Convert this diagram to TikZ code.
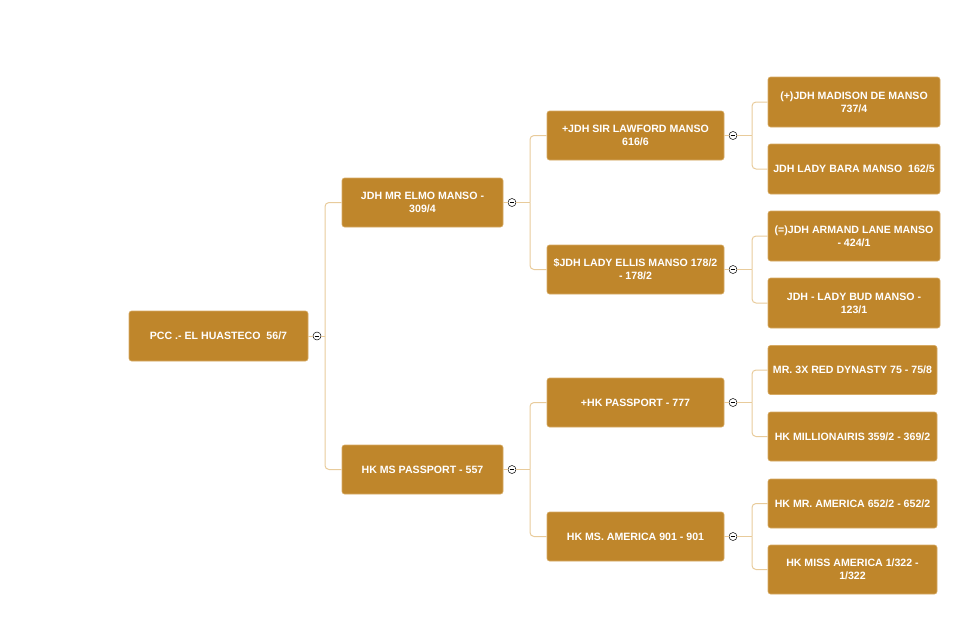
\documentclass[tikz,border=0pt]{standalone}
\usepackage{fontspec}
\setmainfont{Liberation Sans}
\definecolor{nodefill}{RGB}{191,134,43}
\definecolor{nodeedge}{RGB}{214,170,100}
\definecolor{conncol}{RGB}{232,203,155}
\begin{document}
\begin{tikzpicture}[x=1pt,y=-1pt,
  nbox/.style={fill=nodefill, draw=nodeedge, line width=0.6pt, rounded corners=2.5pt, text=white,
    font=\bfseries\fontsize{10.6}{12.8}\selectfont, align=center, inner sep=0pt},
  rootbox/.style={nbox, minimum width=179pt, minimum height=50pt},
  lonebox/.style={nbox, minimum width=161pt, minimum height=49pt},
  ltwobox/.style={nbox, minimum width=177pt, minimum height=49pt},
  lthreebox/.style={nbox, minimum width=172pt, minimum height=50pt},
  lthreeboxb/.style={nbox, minimum width=169pt, minimum height=49pt},
  toggle/.style={circle, draw=black, fill=white, line width=0.5pt, minimum size=8pt, inner sep=0pt,
    path picture={\draw[line width=0.6pt] ([xshift=-2.3pt]path picture bounding box.center) -- ([xshift=2.3pt]path picture bounding box.center);}},
  conn/.style={draw=conncol, line width=1pt, rounded corners=4pt}
]
\useasboundingbox (0,0) rectangle (973,633);

% nodes
\node[rootbox] (root) at (218.5,336) {PCC .- EL HUASTECO\ \ 56/7};

\node[lonebox] (a) at (422.5,202.5) {JDH MR ELMO MANSO -\\309/4};
\node[lonebox] (b) at (422.5,469.5) {HK MS PASSPORT - 557};

\node[ltwobox] (aa) at (635.5,135.5) {+JDH SIR LAWFORD MANSO\\616/6};
\node[ltwobox] (ab) at (635.5,269.5) {\$JDH LADY ELLIS MANSO 178/2\\- 178/2};
\node[ltwobox] (ba) at (635.5,402.5) {+HK PASSPORT - 777};
\node[ltwobox] (bb) at (635.5,536.5) {HK MS. AMERICA 901 - 901};

\node[lthreebox] (aaa) at (854,102) {(+)JDH MADISON DE MANSO\\737/4};
\node[lthreebox] (aab) at (854,169) {JDH LADY BARA MANSO\ \ 162/5};
\node[lthreebox] (aba) at (854,236) {(=)JDH ARMAND LANE MANSO\\- 424/1};
\node[lthreebox] (abb) at (854,303) {JDH - LADY BUD MANSO -\\123/1};
\node[lthreeboxb] (baa) at (852.5,370) {MR. 3X RED DYNASTY 75 - 75/8};
\node[lthreeboxb] (bab) at (852.5,436.5) {HK MILLIONAIRIS 359/2 - 369/2};
\node[lthreeboxb] (bba) at (852.5,503.5) {HK MR. AMERICA 652/2 - 652/2};
\node[lthreeboxb] (bbb) at (852.5,569.5) {HK MISS AMERICA 1/322 -\\1/322};

% toggles
\node[toggle] (t0) at (317,336) {};
\node[toggle] (ta) at (512,202.5) {};
\node[toggle] (tb) at (512,469.5) {};
\node[toggle] (taa) at (733,135.5) {};
\node[toggle] (tab) at (733,269.5) {};
\node[toggle] (tba) at (733,402.5) {};
\node[toggle] (tbb) at (733,536.5) {};

% bus junctions
\coordinate (j0) at (325,336);
\coordinate (ja) at (530,202.5);
\coordinate (jb) at (530,469.5);
\coordinate (jaa) at (752,135.5);
\coordinate (jab) at (752,269.5);
\coordinate (jba) at (752,402.5);
\coordinate (jbb) at (752,536.5);

% connectors
\path[conn] (root.east) -- (t0.west);
\path[conn] (t0.east) -- (j0);
\path[conn] (j0) |- (a.west);
\path[conn] (j0) |- (b.west);

\path[conn] (a.east) -- (ta.west);
\path[conn] (ta.east) -- (ja);
\path[conn] (ja) |- (aa.west);
\path[conn] (ja) |- (ab.west);

\path[conn] (b.east) -- (tb.west);
\path[conn] (tb.east) -- (jb);
\path[conn] (jb) |- (ba.west);
\path[conn] (jb) |- (bb.west);

\path[conn] (aa.east) -- (taa.west);
\path[conn] (taa.east) -- (jaa);
\path[conn] (jaa) |- (aaa.west);
\path[conn] (jaa) |- (aab.west);

\path[conn] (ab.east) -- (tab.west);
\path[conn] (tab.east) -- (jab);
\path[conn] (jab) |- (aba.west);
\path[conn] (jab) |- (abb.west);

\path[conn] (ba.east) -- (tba.west);
\path[conn] (tba.east) -- (jba);
\path[conn] (jba) |- (baa.west);
\path[conn] (jba) |- (bab.west);

\path[conn] (bb.east) -- (tbb.west);
\path[conn] (tbb.east) -- (jbb);
\path[conn] (jbb) |- (bba.west);
\path[conn] (jbb) |- (bbb.west);
\end{tikzpicture}
\end{document}
